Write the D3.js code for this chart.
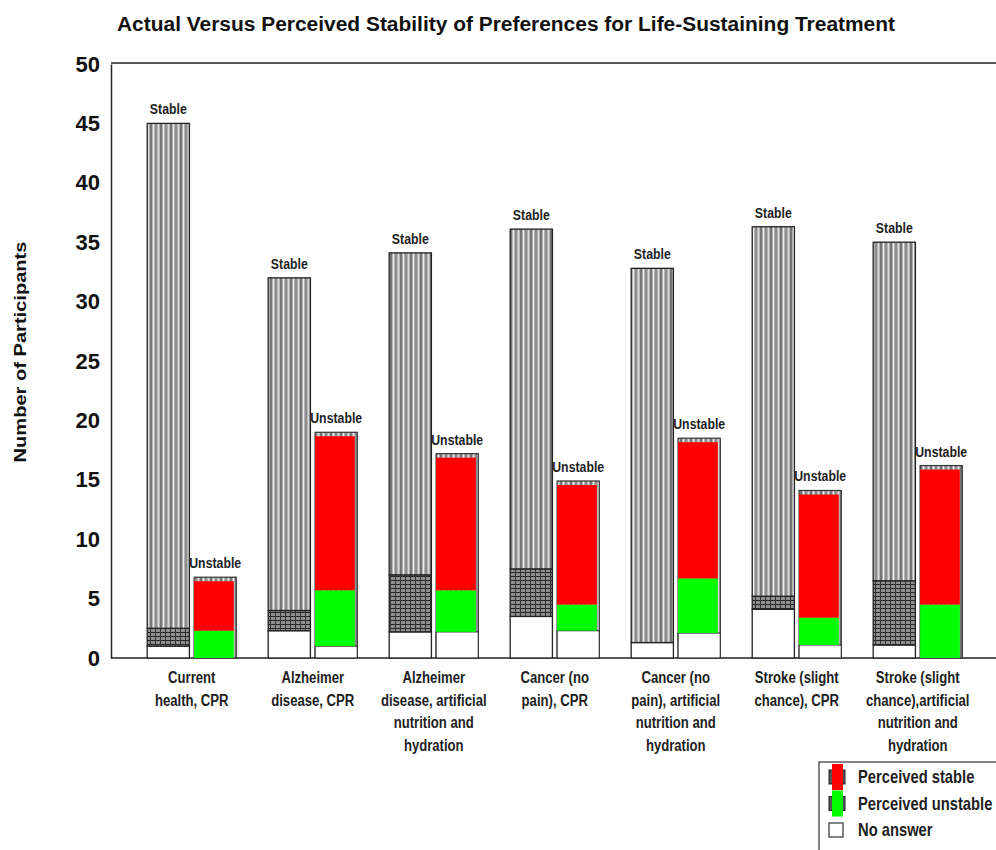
<!DOCTYPE html>
<html>
<head>
<meta charset="utf-8">
<script src="https://cdn.jsdelivr.net/npm/d3@7"></script>
<style>
  html, body { margin: 0; padding: 0; background: #fff; }
  svg { display: block; }
  text { font-family: "Liberation Sans", Arial, sans-serif; }
</style>
</head>
<body>
<svg id="chart" width="996" height="850"></svg>
<script>
// Scenario labels and their wrapped lines
const categories = [
  "Current health, CPR",
  "Alzheimer disease, CPR",
  "Alzheimer disease, artificial nutrition and hydration",
  "Cancer (no pain), CPR",
  "Cancer (no pain), artificial nutrition and hydration",
  "Stroke (slight chance), CPR",
  "Stroke (slight chance),artificial nutrition and hydration"
];
const categoryLines = [
  ["Current", "health, CPR"],
  ["Alzheimer", "disease, CPR"],
  ["Alzheimer", "disease, artificial", "nutrition and", "hydration"],
  ["Cancer (no", "pain), CPR"],
  ["Cancer (no", "pain), artificial", "nutrition and", "hydration"],
  ["Stroke (slight", "chance), CPR"],
  ["Stroke (slight", "chance),artificial", "nutrition and", "hydration"]
];

// Participants whose preference was actually stable, split by how they perceived it
const stableNoAnswer          = [1.0, 2.3, 2.2, 3.5, 1.3, 4.1, 1.1];
const stablePerceivedUnstable = [1.5, 1.7, 4.8, 4.0, 0.0, 1.1, 5.4];
const stablePerceivedStable   = [42.5, 28.0, 27.1, 28.6, 31.5, 31.1, 28.5];

// Participants whose preference was actually unstable
const unstableNoAnswer          = [0.0, 1.0, 2.2, 2.3, 2.1, 1.1, 0.0];
const unstablePerceivedUnstable = [2.3, 4.7, 3.5, 2.2, 4.6, 2.3, 4.5];
const unstablePerceivedStable   = [4.5, 13.3, 11.5, 10.4, 11.8, 10.7, 11.7];

const barKinds = ["Stable", "Unstable"];
const yTicks = [0, 5, 10, 15, 20, 25, 30, 35, 40, 45, 50];
const legendItems = ["Perceived stable", "Perceived unstable", "No answer"];

const svg = d3.select("#chart");
const W = 996;
const plot = { left: 111, top: 64, bottom: 658 };
const NARROW = 0.82; // horizontal squeeze that gives the narrow typeface look

// Draws a horizontally condensed text line centred (or anchored) at x, baseline y
function narrowText(parent, x, y, str, size, anchor = "middle") {
  return parent.append("g")
    .attr("transform", `translate(${x},${y}) scale(${NARROW},1)`)
    .append("text")
    .attr("text-anchor", anchor)
    .attr("font-size", size).attr("font-weight", "bold").attr("fill", "#1e1e1e")
    .text(str);
}

// ---- fill patterns ----
const defs = svg.append("defs");
const stripes = defs.append("pattern").attr("id", "stripes")
  .attr("patternUnits", "userSpaceOnUse").attr("width", 10).attr("height", 10);
[
  [0, 10, "#b2b2b2"], [0, 2, "#767676"], [3, 1, "#efefef"],
  [5, 2, "#8e8e8e"], [8, 1, "#dcdcdc"]
].forEach(([x, w, c]) => stripes.append("rect").attr("x", x).attr("width", w).attr("height", 10).attr("fill", c));

const xhatch = defs.append("pattern").attr("id", "xhatch")
  .attr("patternUnits", "userSpaceOnUse").attr("width", 5).attr("height", 4);
xhatch.append("rect").attr("width", 5).attr("height", 4).attr("fill", "#8f8f8f");
xhatch.append("rect").attr("width", 5).attr("height", 1).attr("fill", "#262626");
xhatch.append("rect").attr("width", 1).attr("height", 4).attr("fill", "#333");

// ---- scales ----
const y = d3.scaleLinear().domain([0, 50]).range([plot.bottom, plot.top]);
const x0 = d3.scaleBand().domain(categories).range([131.25, 978.25]).padding(0);
const x1 = d3.scaleBand().domain(barKinds).range([0, x0.bandwidth()])
  .paddingInner(0.1).paddingOuter(0.34);

// ---- title ----
svg.append("text")
  .attr("x", 117).attr("y", 31)
  .attr("font-size", 20).attr("font-weight", "bold").attr("fill", "#111")
  .attr("textLength", 778).attr("lengthAdjust", "spacingAndGlyphs")
  .text("Actual Versus Perceived Stability of Preferences for Life-Sustaining Treatment");

// ---- frame ----
svg.append("line").attr("x1", plot.left).attr("x2", W).attr("y1", plot.top - 1).attr("y2", plot.top - 1)
  .attr("stroke", "#222").attr("stroke-width", 1.5);
svg.append("line").attr("x1", plot.left).attr("x2", W).attr("y1", plot.bottom).attr("y2", plot.bottom)
  .attr("stroke", "#222").attr("stroke-width", 1.5);

// ---- y axis ----
const yAxis = svg.append("g").attr("transform", `translate(${plot.left},0)`)
  .call(d3.axisLeft(y).tickValues(yTicks).tickSize(0).tickPadding(11));
yAxis.select(".domain").attr("stroke", "#222").attr("stroke-width", 1.5);
yAxis.selectAll("text")
  .attr("font-family", "'Liberation Sans', Arial, sans-serif")
  .attr("font-size", 22).attr("font-weight", "bold").attr("fill", "#111");

svg.append("text")
  .attr("transform", "translate(26,352) rotate(-90)")
  .attr("text-anchor", "middle")
  .attr("font-size", 17).attr("font-weight", "bold").attr("fill", "#111")
  .attr("textLength", 221).attr("lengthAdjust", "spacingAndGlyphs")
  .text("Number of Participants");

// ---- stacked data ----
const keys = ["noAnswer", "perceivedUnstable", "perceivedStable"];
const rowsFrom = (na, pu, ps) => categories.map((c, i) => ({
  category: c, noAnswer: na[i], perceivedUnstable: pu[i], perceivedStable: ps[i]
}));
const stableStack = d3.stack().keys(keys)(rowsFrom(stableNoAnswer, stablePerceivedUnstable, stablePerceivedStable));
const unstableStack = d3.stack().keys(keys)(rowsFrom(unstableNoAnswer, unstablePerceivedUnstable, unstablePerceivedStable));

const stableFill = { noAnswer: "#fff", perceivedUnstable: "url(#xhatch)", perceivedStable: "url(#stripes)" };
const unstableFill = { noAnswer: "#fff", perceivedUnstable: "#00ff00", perceivedStable: "#ff0000" };

const bars = svg.append("g");
const bw = x1.bandwidth();

// Actually stable bars: patterned segments with dark outlines
stableStack.forEach(layer => {
  bars.selectAll(null).data(layer.filter(d => d[1] - d[0] > 0)).join("rect")
    .attr("x", d => x0(d.data.category) + x1("Stable"))
    .attr("y", d => y(d[1]))
    .attr("width", bw)
    .attr("height", d => y(d[0]) - y(d[1]))
    .attr("fill", stableFill[layer.key])
    .attr("stroke", "#222").attr("stroke-width", 1.3);
});

// Actually unstable bars: striped body with red/green painted over it
bars.selectAll(null).data(unstableStack[2]).join("rect")
  .attr("x", d => x0(d.data.category) + x1("Unstable"))
  .attr("y", d => y(d[1]))
  .attr("width", bw)
  .attr("height", d => y(0) - y(d[1]))
  .attr("fill", "url(#stripes)")
  .attr("stroke", "#333").attr("stroke-width", 1.2);

unstableStack.forEach(layer => {
  const isWhite = layer.key === "noAnswer";
  const capInset = layer.key === "perceivedStable" ? 4 : 0;
  bars.selectAll(null).data(layer.filter(d => d[1] - d[0] > 0)).join("rect")
    .attr("x", d => x0(d.data.category) + x1("Unstable"))
    .attr("y", d => y(d[1]) + capInset)
    .attr("width", isWhite ? bw : bw - 2.5)
    .attr("height", d => y(d[0]) - y(d[1]) - capInset)
    .attr("fill", unstableFill[layer.key])
    .attr("stroke", isWhite ? "#333" : "none").attr("stroke-width", 1.2);
});

// Bar captions
const captions = svg.append("g");
categories.forEach((c, i) => {
  narrowText(captions, x0(c) + x1("Stable") + bw / 2, y(stableStack[2][i][1]) - 9, "Stable", 15);
  narrowText(captions, x0(c) + x1("Unstable") + bw / 2, y(unstableStack[2][i][1]) - 9, "Unstable", 15);
});

// ---- x axis labels ----
const xLabels = svg.append("g");
categories.forEach((c, i) => {
  categoryLines[i].forEach((line, j) => {
    narrowText(xLabels, x0(c) + x0.bandwidth() / 2, 683 + j * 22.5, line, 16);
  });
});

// ---- legend ----
const legend = svg.append("g");
legend.append("rect").attr("x", 819).attr("y", 762).attr("width", 200).attr("height", 120)
  .attr("fill", "#fff").attr("stroke", "#333").attr("stroke-width", 1.2);
const legendColors = ["#ff0000", "#00ff00", "#fff"];
legendItems.forEach((label, i) => {
  const cy = 777 + i * 26.5;
  if (i < 2) {
    legend.append("rect").attr("x", 829).attr("y", cy - 7).attr("width", 16).attr("height", 14)
      .attr("fill", "#555").attr("stroke", "#222");
    legend.append("rect").attr("x", 832).attr("y", cy - 13).attr("width", 11).attr("height", 26)
      .attr("fill", legendColors[i]);
  } else {
    legend.append("rect").attr("x", 829).attr("y", cy - 7).attr("width", 14).attr("height", 14)
      .attr("fill", "#fff").attr("stroke", "#333").attr("stroke-width", 1.2);
  }
  narrowText(legend, 858, cy + 6, label, 18, "start");
});
</script>
</body>
</html>
